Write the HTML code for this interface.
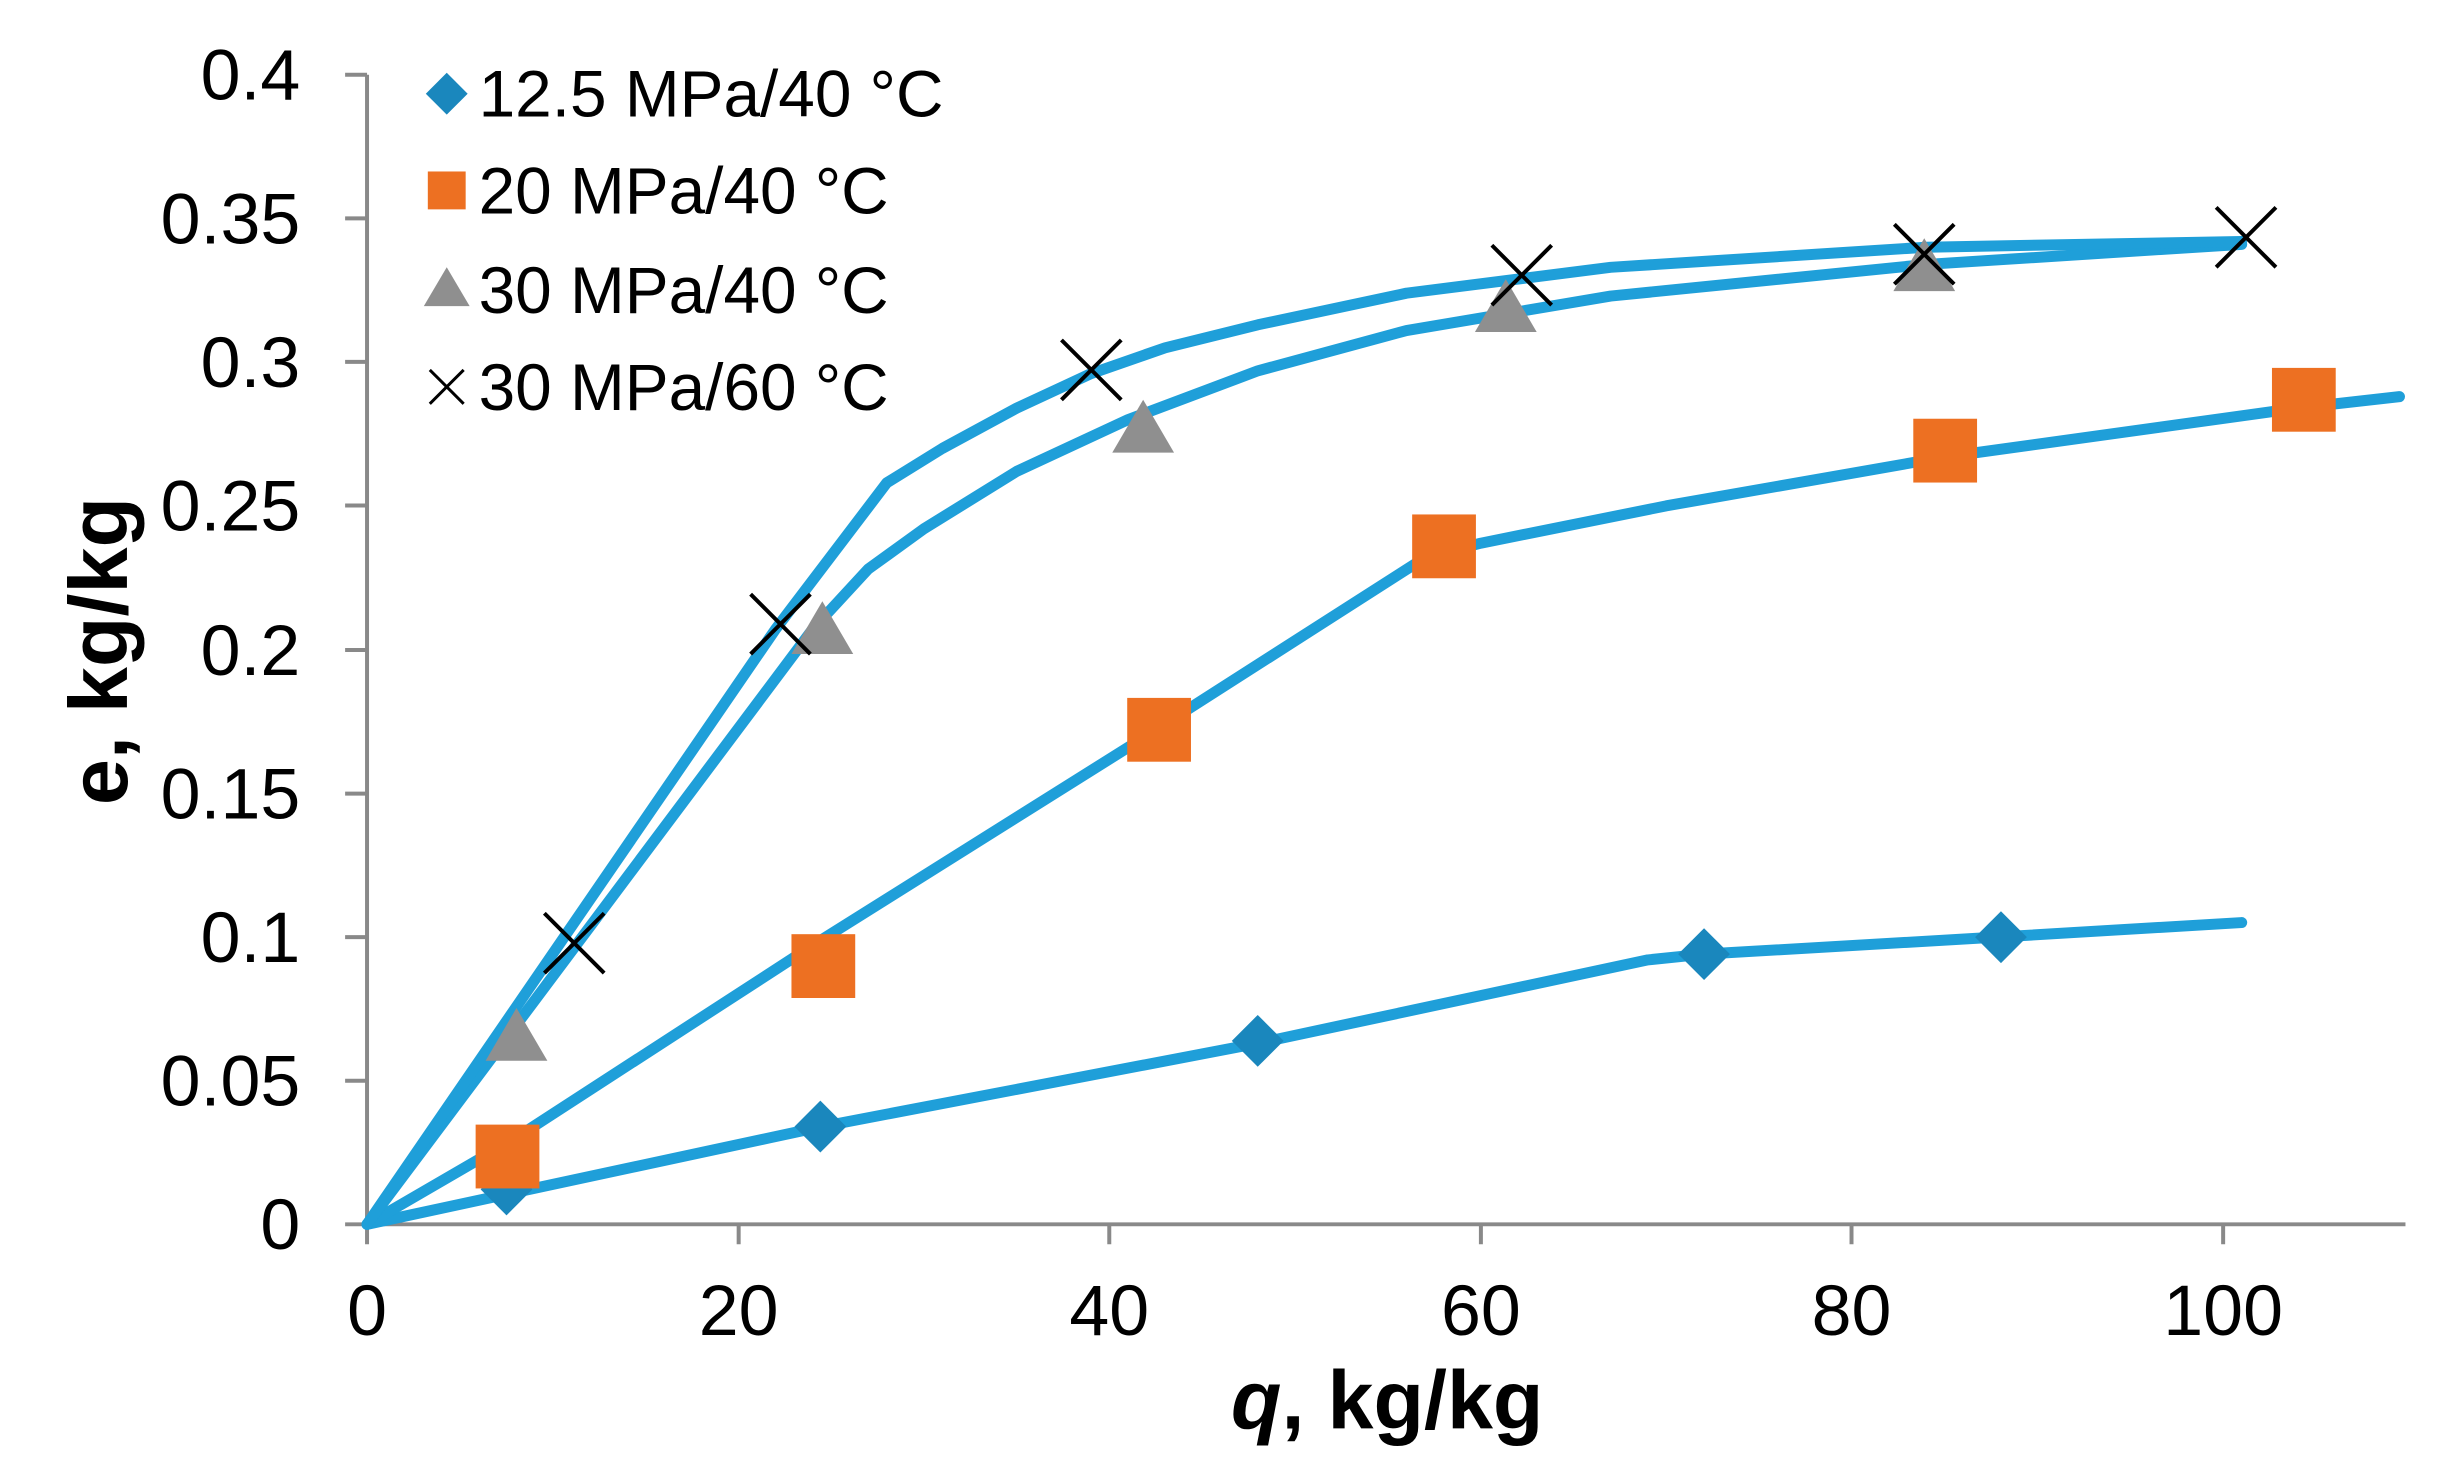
<!DOCTYPE html>
<html><head><meta charset="utf-8"><style>
html,body{margin:0;padding:0;background:#fff}
svg{display:block}
text{font-family:"Liberation Sans",sans-serif;fill:#000}
</style></head><body>
<svg width="2459" height="1481" viewBox="0 0 2459 1481" xmlns="http://www.w3.org/2000/svg">
<rect width="2459" height="1481" fill="#fff"/>
<g transform="matrix(0.9963,0,0,0.997,-0.6,-1)">
<g stroke="#898989" stroke-width="4" fill="none">
<line x1="369" y1="76" x2="369" y2="1230"/>
<line x1="367" y1="1229" x2="2415" y2="1229"/>
<line x1="347" y1="76" x2="369" y2="76"/>
<line x1="347" y1="220" x2="369" y2="220"/>
<line x1="347" y1="364" x2="369" y2="364"/>
<line x1="347" y1="508" x2="369" y2="508"/>
<line x1="347" y1="653" x2="369" y2="653"/>
<line x1="347" y1="797" x2="369" y2="797"/>
<line x1="347" y1="941" x2="369" y2="941"/>
<line x1="347" y1="1085" x2="369" y2="1085"/>
<line x1="347" y1="1229" x2="369" y2="1229"/>
<line x1="369" y1="1229" x2="369" y2="1249"/>
<line x1="742" y1="1229" x2="742" y2="1249"/>
<line x1="1114" y1="1229" x2="1114" y2="1249"/>
<line x1="1487" y1="1229" x2="1487" y2="1249"/>
<line x1="1859" y1="1229" x2="1859" y2="1249"/>
<line x1="2232" y1="1229" x2="2232" y2="1249"/>
</g>
<g font-size="72" text-anchor="end">
<text x="302" y="101">0.4</text>
<text x="302" y="245">0.35</text>
<text x="302" y="389">0.3</text>
<text x="302" y="533">0.25</text>
<text x="302" y="678">0.2</text>
<text x="302" y="822">0.15</text>
<text x="302" y="966">0.1</text>
<text x="302" y="1110">0.05</text>
<text x="302" y="1254">0</text>
</g>
<g font-size="72" text-anchor="middle">
<text x="369" y="1340">0</text>
<text x="742" y="1340">20</text>
<text x="1114" y="1340">40</text>
<text x="1487" y="1340">60</text>
<text x="1859" y="1340">80</text>
<text x="2232" y="1340">100</text>
</g>
<text x="1393" y="1434" font-size="83" font-weight="bold" text-anchor="middle"><tspan font-style="italic">q</tspan>, kg/kg</text>
<text transform="translate(128,654) rotate(-90)" font-size="83" font-weight="bold" text-anchor="middle">e, kg/kg</text>
<g transform="translate(369,1229) scale(18.63,-2882.5)" fill="none" stroke="#1f9fd9" stroke-width="11" stroke-linejoin="round" stroke-linecap="round">
<polyline vector-effect="non-scaling-stroke" points="0,0 24.5,0.034 48,0.063 69,0.092 72,0.094 88,0.1 101,0.105"/>
<polyline vector-effect="non-scaling-stroke" points="0,0 8,0.03 24,0.097 42,0.17 57,0.232 60,0.237 70,0.25 85,0.267 104,0.284 109.5,0.288"/>
<polyline vector-effect="non-scaling-stroke" points="0,0 24,0.207 27,0.228 30,0.242 35,0.262 41,0.28 48,0.297 56,0.311 67,0.323 84,0.334 101,0.341"/>
<polyline vector-effect="non-scaling-stroke" points="0,0 22,0.207 28,0.258 31,0.27 35,0.284 39,0.296 43,0.305 48,0.313 56,0.324 67,0.333 84,0.34 101,0.342"/>
</g>
<g fill="#1a87bd">
<polygon points="509,1168 535,1194 509,1220 483,1194"/>
<polygon points="824,1105 850,1131 824,1157 798,1131"/>
<polygon points="1263,1019 1289,1045 1263,1071 1237,1045"/>
<polygon points="1711,932 1737,958 1711,984 1685,958"/>
<polygon points="2009,915 2035,941 2009,967 1983,941"/>
</g>
<g fill="#ed7022">
<rect x="478" y="1129" width="64" height="64"/>
<rect x="795" y="938" width="64" height="64"/>
<rect x="1132" y="701" width="64" height="64"/>
<rect x="1418" y="517" width="64" height="64"/>
<rect x="1921" y="421" width="64" height="64"/>
<rect x="2281" y="370" width="64" height="64"/>
</g>
<g fill="#8f8f8f">
<polygon points="519,1012 550,1065 488,1065"/>
<polygon points="826,604 857,657 795,657"/>
<polygon points="1148,402 1179,455 1117,455"/>
<polygon points="1512,281 1543,334 1481,334"/>
<polygon points="1932,240 1963,293 1901,293"/>
</g>
<g stroke="#000" stroke-width="4">
<path d="M547,917 L607,977 M607,917 L547,977"/>
<path d="M754,597 L814,657 M814,597 L754,657"/>
<path d="M1066,342 L1126,402 M1126,342 L1066,402"/>
<path d="M1498,247 L1558,307 M1558,247 L1498,307"/>
<path d="M1902,226 L1962,286 M1962,226 L1902,286"/>
<path d="M2225,209 L2285,269 M2285,209 L2225,269"/>
</g>
<polygon points="449,74 470,95 449,116 428,95" fill="#1a87bd"/>
<rect x="430" y="173" width="38" height="38" fill="#ed7022"/>
<polygon points="449,269 472,308 426,308" fill="#8f8f8f"/>
<path d="M432,372 L466,406 M466,372 L432,406" stroke="#000" stroke-width="3"/>
<g font-size="66">
<text x="481" y="118">12.5 MPa/40 °C</text>
<text x="481" y="215">20 MPa/40 °C</text>
<text x="481" y="315">30 MPa/40 °C</text>
<text x="481" y="412">30 MPa/60 °C</text>
</g>
</g>
</svg>
</body></html>
